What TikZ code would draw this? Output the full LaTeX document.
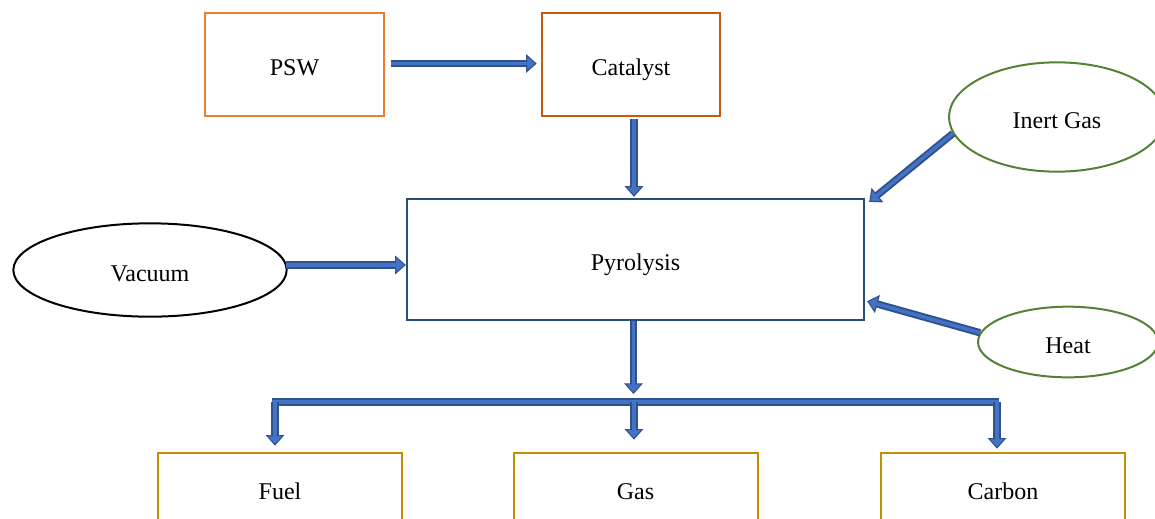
\documentclass[tikz,border=0pt]{standalone}
\usepackage{fontspec}
\setmainfont{Liberation Serif}
\usetikzlibrary{arrows.meta,shapes.geometric}
\definecolor{pswcol}{RGB}{237,125,49}
\definecolor{catcol}{RGB}{197,90,17}
\definecolor{pyrocol}{RGB}{40,78,122}
\definecolor{greencol}{RGB}{84,130,53}
\definecolor{goldcol}{RGB}{191,144,0}
\definecolor{arrowedge}{RGB}{47,82,143}
\definecolor{arrowfill}{RGB}{68,114,196}
\begin{document}
\begin{tikzpicture}[x=0.75pt,y=-0.75pt]
\tikzset{kasten/.style={draw,line width=1.5pt,font=\fontsize{18}{20}\selectfont,text height=20pt,text depth=3pt},
  oval/.style={ellipse,draw,line width=1.5pt,font=\fontsize{18}{20}\selectfont,text height=20pt,text depth=3pt},
  pfeil/.style={line width=5.5pt,draw=arrowedge,
    -{Triangle[width=14pt,length=8pt,fill=arrowfill,line width=0.8pt]},
    postaction={draw=arrowfill,line width=2.6pt,-,shorten >=7pt}},
  schiene/.style={line width=5.5pt,draw=arrowedge,
    postaction={draw=arrowfill,line width=2.6pt}}}
\useasboundingbox (0,0) rectangle (1155,518);
\clip (0,0) rectangle (1155,518);
\node [kasten,draw=pswcol,minimum width=134pt,minimum height=77pt] (psw) at (294.5,64.5) {PSW};
\node [kasten,draw=catcol,minimum width=134pt,minimum height=77pt] (cat) at (631,64.5) {Catalyst};
\node [kasten,draw=pyrocol,minimum width=343pt,minimum height=91pt] (pyro) at (635.5,259.5) {Pyrolysis};
\node [oval,draw=black,minimum width=205pt,minimum height=70pt] (vac) at (150,270) {Vacuum};
\node [oval,draw=greencol,minimum width=162pt,minimum height=82pt] (inert) at (1057,117) {Inert Gas};
\node [oval,draw=greencol,minimum width=135pt,minimum height=53pt] (heat) at (1068,342) {Heat};
\node [kasten,draw=goldcol,minimum width=183pt,minimum height=53pt] (fuel) at (280,488) {Fuel};
\node [kasten,draw=goldcol,minimum width=183pt,minimum height=53pt] (gas) at (635.5,488) {Gas};
\node [kasten,draw=goldcol,minimum width=183pt,minimum height=53pt] (carbon) at (1003,488) {Carbon};
\coordinate (bus) at (634,402);
\draw[pfeil] ([shift={(6,-1)}]psw.east) -- ([shift={(-4,-1)}]cat.west);
\draw[pfeil] ([shift={(3,2)}]cat.south) -- ([shift={(3,-1)}]cat.south |- pyro.north);
\draw[pfeil] (inert.189) -- ([shift={(4,4)}]pyro.north east);
\draw[pfeil] (heat.174) -- ([shift={(2,-20)}]pyro.south east);
\draw[pfeil] ([shift={(-2,-5)}]vac.east) -- ([shift={(0,-5)}]vac.east -| pyro.west);
\draw[pfeil] ([shift={(-2,0)}]pyro.south) -- ([shift={(-2,-8)}]pyro.south |- bus);
\draw[schiene] ([shift={(-8,0)}]fuel.north |- bus) -- ([shift={(-4,0)}]carbon.north |- bus);
\draw[pfeil] ([shift={(-5,0)}]fuel.north |- bus) -- ([shift={(-5,-6)}]fuel.north);
\draw[pfeil] (bus) -- ([shift={(0,-12)}]bus |- gas.north);
\draw[pfeil] ([shift={(-6,0)}]carbon.north |- bus) -- ([shift={(-6,-3)}]carbon.north);
\end{tikzpicture}
\end{document}
